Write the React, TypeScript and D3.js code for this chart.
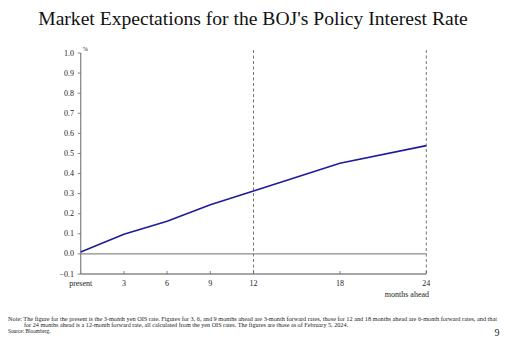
import React from "react";
import * as d3 from "d3";

const months = [0, 3, 6, 9, 12, 18, 24];
const rates = [0.01, 0.098, 0.162, 0.245, 0.313, 0.451, 0.539];
const xTickValues = [0, 3, 6, 9, 12, 18, 24];
const xTickLabels = ["present", "3", "6", "9", "12", "18", "24"];
const yTickValues = [-0.1, 0, 0.1, 0.2, 0.3, 0.4, 0.5, 0.6, 0.7, 0.8, 0.9, 1.0];
const dashedMonths = [12, 24];
const title = "Market Expectations for the BOJ's Policy Interest Rate";
const noteLines = [
  "Note: The figure for the present is the 3-month yen OIS rate. Figures for 3, 6, and 9 months ahead are 3-month forward rates, those for 12 and 18 months ahead are 6-month forward rates, and that",
  "for 24 months ahead is a 12-month forward rate, all calculated from the yen OIS rates. The figures are those as of February 5, 2024.",
  "Source: Bloomberg.",
];

export default function App() {
  const W = 506, H = 341;
  const x = d3.scaleLinear().domain([0, 24]).range([80.7, 426.3]);
  const y = d3.scaleLinear().domain([-0.1, 1.0]).range([274, 53]);
  const line = d3
    .line<number>()
    .x((_, i) => x(months[i]))
    .y((d) => y(d));
  const axisColor = "#8a8a8a";
  const font = "'Liberation Serif', 'Times New Roman', serif";
  return (
    <svg
      width={W}
      height={H}
      style={{ position: "absolute", left: 0, top: 0, background: "#fff" }}
      fontFamily={font}
    >
      <rect width={W} height={H} fill="#fff" />
      <text x={253} y={24.5} textAnchor="middle" fontSize={19.6} fill="#111">
        {title}
      </text>
      {/* dashed verticals */}
      {dashedMonths.map((m) => (
        <line
          key={m}
          x1={x(m)}
          x2={x(m)}
          y1={y(1.0) - 3}
          y2={y(-0.1)}
          stroke="#666"
          strokeWidth={0.9}
          strokeDasharray="3,2.5"
        />
      ))}
      {/* zero line */}
      <line x1={x(0)} x2={x(24)} y1={y(0)} y2={y(0)} stroke={axisColor} strokeWidth={1.3} />
      {/* bottom axis */}
      <line x1={x(0)} x2={x(24)} y1={y(-0.1)} y2={y(-0.1)} stroke={axisColor} strokeWidth={1.3} />
      {xTickValues.map((t) => (
        <line key={t} x1={x(t)} x2={x(t)} y1={y(-0.1)} y2={y(-0.1) - 3} stroke="#666" strokeWidth={0.8} />
      ))}
      {/* y axis */}
      <line x1={x(0)} x2={x(0)} y1={y(1.0)} y2={y(-0.1)} stroke={axisColor} strokeWidth={1.3} />
      {yTickValues.map((t) => (
        <g key={t}>
          <line x1={x(0) - 3} x2={x(0)} y1={y(t)} y2={y(t)} stroke="#666" strokeWidth={0.8} />
          <text
            x={74}
            y={y(t)}
            textAnchor="end"
            dominantBaseline="central"
            fontSize={8}
            fill="#222"
          >
            {d3.format(".1f")(t)}
          </text>
        </g>
      ))}
      <text x={x(0) + 2} y={y(1.0) - 2} fontSize={6} fill="#222">%</text>
      {xTickValues.map((t, i) => (
        <text key={t} x={x(t)} y={286} textAnchor="middle" fontSize={8} fill="#222">
          {xTickLabels[i]}
        </text>
      ))}
      <text x={429} y={296.5} textAnchor="end" fontSize={8} fill="#222">months ahead</text>
      {/* data line */}
      <path d={line(rates) || ""} fill="none" stroke="#1c1c9c" strokeWidth={1.6} />
      {/* notes */}
      <text x={8} y={321} fontSize={5.3} fill="#222" textLength={489} lengthAdjust="spacingAndGlyphs">
        {noteLines[0]}
      </text>
      <text x={24} y={327} fontSize={5.3} fill="#222" textLength={324} lengthAdjust="spacingAndGlyphs">
        {noteLines[1]}
      </text>
      <text x={8} y={333} fontSize={5.3} fill="#222">{noteLines[2]}</text>
      <text x={497} y={336} textAnchor="middle" fontSize={10} fill="#222">9</text>
    </svg>
  );
}
